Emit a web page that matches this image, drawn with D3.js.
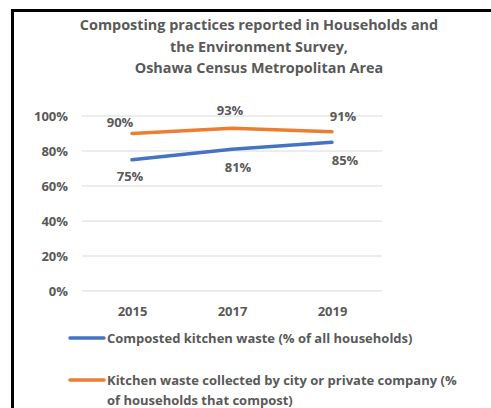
<!DOCTYPE html>
<html>
<head>
<meta charset="utf-8">
<script src="https://cdn.jsdelivr.net/npm/d3@7"></script>
<style>
  body { margin: 0; background: #fff; }
  text { font-family: "Open Sans", "Liberation Sans", sans-serif; font-weight: bold; fill: #595959; }
</style>
</head>
<body>
<svg id="chart" width="491" height="408"></svg>
<script>
const years = ['2015', '2017', '2019'];
const composted = [75, 81, 85];
const collected = [90, 93, 91];
const yTicks = [0, 20, 40, 60, 80, 100];
const titleLines = [
    'Composting practices reported in Households and',
    'the Environment Survey,',
    'Oshawa Census Metropolitan Area'
];
const legendLabels = [
    ['Composted kitchen waste (% of all households)'],
    ['Kitchen waste collected by city or private company (%', 'of households that compost)']
];

const svg = d3.select('#chart');

// frame of the chart (runs past the right and bottom edge)
svg.append('rect')
    .attr('x', 12.5).attr('y', 10.5)
    .attr('width', 520).attr('height', 420)
    .attr('fill', 'none')
    .attr('stroke', '#000')
    .attr('stroke-width', 3);

svg.append('g').selectAll('text')
    .data(titleLines)
    .enter()
    .append('text')
    .attr('x', 259)
    .attr('y', (d, i) => 30 + i * 21.5)
    .attr('text-anchor', 'middle')
    .style('font-size', '14.4px')
    .text(d => d);

const xScale = d3.scalePoint()
    .domain(years)
    .range([82, 382])
    .padding(0.5);

const yScale = d3.scaleLinear()
    .domain([0, 100])
    .range([291, 116]);

// gridlines
svg.append('g').selectAll('line')
    .data(yTicks)
    .enter()
    .append('line')
    .attr('x1', 82).attr('x2', 382)
    .attr('y1', d => yScale(d)).attr('y2', d => yScale(d))
    .attr('stroke', '#d9d9d9')
    .attr('stroke-width', 1);

const yAxis = d3.axisLeft(yScale)
    .tickValues(yTicks)
    .tickSize(0)
    .tickPadding(0)
    .tickFormat(d => d + '%');

svg.append('g')
    .attr('transform', 'translate(68,0)')
    .call(yAxis)
    .call(g => g.select('.domain').remove())
    .selectAll('text')
    .style('font-size', '13px')
    .attr('fill', '#595959');

const xAxis = d3.axisBottom(xScale).tickSize(0).tickPadding(0);

svg.append('g')
    .attr('transform', 'translate(0,307)')
    .call(xAxis)
    .call(g => g.select('.domain').remove())
    .selectAll('text')
    .style('font-size', '13px')
    .attr('fill', '#595959');

// label offsets are placement only, relative to each point
const series = [
    {values: composted, color: '#4472c4', dx: [-2, 6, 13], dy: [17, 18, 18]},
    {values: collected, color: '#ed7d31', dx: [-12, -2, 11], dy: [-11.5, -18, -15]}
];

const line = d3.line()
    .x((d, i) => xScale(years[i]))
    .y(d => yScale(d));

series.forEach(s => {
    svg.append('path')
        .datum(s.values)
        .attr('d', line)
        .attr('fill', 'none')
        .attr('stroke', s.color)
        .attr('stroke-width', 3.5)
        .attr('stroke-linecap', 'round')
        .attr('stroke-linejoin', 'round');
});

// data labels
series.forEach(s => {
    svg.append('g').selectAll('text')
        .data(s.values)
        .enter()
        .append('text')
        .attr('x', (d, i) => xScale(years[i]) + s.dx[i])
        .attr('y', (d, i) => yScale(d) + s.dy[i] + 4.7)
        .attr('text-anchor', 'middle')
        .style('font-size', '13px')
        .text(d => d + '%');
});

// legend
const legend = svg.append('g');
series.forEach((s, i) => {
    const y = 338 + i * 42;
    legend.append('line')
        .attr('x1', 70).attr('x2', 104)
        .attr('y1', y).attr('y2', y)
        .attr('stroke', s.color)
        .attr('stroke-width', 3.5)
        .attr('stroke-linecap', 'round');
    legendLabels[i].forEach((t, j) => {
        legend.append('text')
            .attr('x', 107)
            .attr('y', y + 5 + j * 20)
            .style('font-size', '13px')
            .text(t);
    });
});
</script>
</body>
</html>
